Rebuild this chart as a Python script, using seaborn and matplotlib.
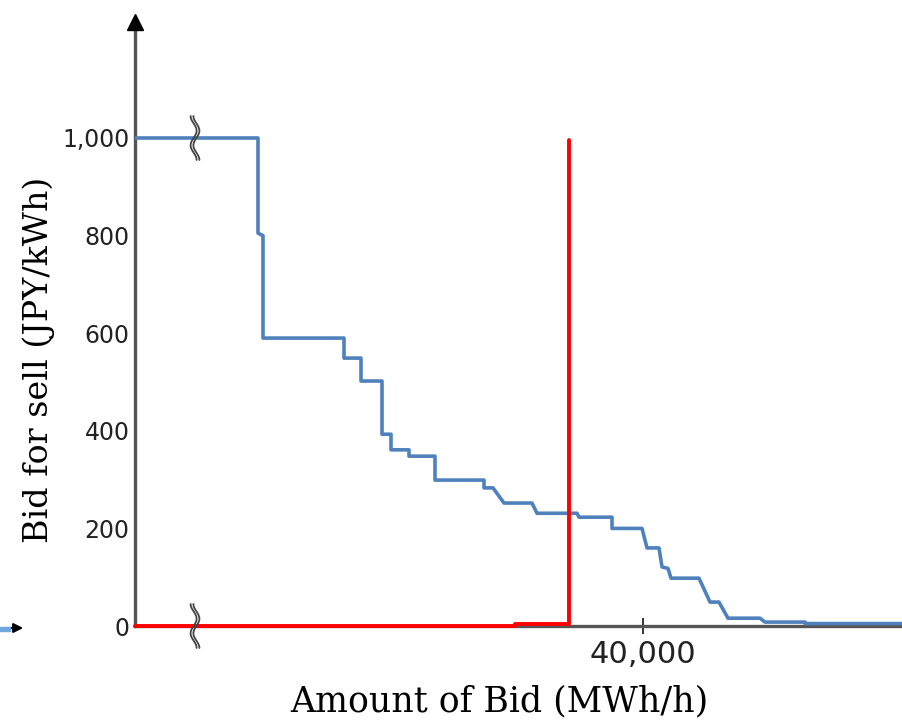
import numpy as np
import pandas as pd
import matplotlib
matplotlib.use("Agg")
import matplotlib.pyplot as plt
import seaborn as sns

# sell curve (vertices of the stepped supply curve)
sell_amount = [14600, 20750, 20750, 21000, 21000, 25050, 25050, 25900, 25900,
               26950, 26950, 27400, 27400, 28300, 28300, 29600, 29600, 32050,
               32050, 32500, 33050, 34450, 34700, 36700, 36800, 38450, 38450,
               39950, 40200, 40800, 40950, 41250, 41400, 42800, 43350, 43800,
               44250, 45850, 46100, 48100, 48100, 53000]
sell_price = [1000, 1000, 805, 800, 590, 590, 549, 549, 502,
              502, 393, 393, 361, 361, 348, 348, 299, 299,
              283, 283, 252, 252, 231, 231, 223, 223, 200,
              200, 160, 160, 121, 118, 98, 98, 49, 49,
              16, 16, 8, 8, 5, 5]

# buy curve
buy_amount = [14600, 33600, 33600, 36300, 36300]
buy_price = [0, 0, 5, 5, 995]

y_ticks = [0, 200, 400, 600, 800, 1000]
y_tick_labels = ["0", "200", "400", "600", "800", "1,000"]
x_ticks = [40000]
x_tick_labels = ["40,000"]

sell = pd.DataFrame({"amount": sell_amount, "price": sell_price})
buy = pd.DataFrame({"amount": buy_amount, "price": buy_price})

sns.set_theme(style="white")
plt.rcParams["font.family"] = ["DejaVu Sans"]

fig = plt.figure(figsize=(9.03, 7.21), dpi=100)
ax = fig.add_axes([135 / 903, 1 - 626 / 721, 1 - 135 / 903, (626 - 22) / 721])

sns.lineplot(data=sell, x="amount", y="price", sort=False, estimator=None,
             color="#4f81bd", linewidth=2.6, ax=ax, zorder=3)
sns.lineplot(data=buy, x="amount", y="price", sort=False, estimator=None,
             color="#ff0000", linewidth=2.8, ax=ax, zorder=4, clip_on=False)

ax.set_xlim(14600, 53000)
ax.set_ylim(0, 1000 * (626 - 22) / (626 - 138))

for s in ["top", "right"]:
    ax.spines[s].set_visible(False)
for s in ["left", "bottom"]:
    ax.spines[s].set_color("#555555")
    ax.spines[s].set_linewidth(2.4)

ax.set_yticks(y_ticks)
ax.set_yticklabels(y_tick_labels, fontsize=17, color="#222222")
ax.set_xticks(x_ticks)
ax.set_xticklabels(x_tick_labels, fontsize=22, color="#222222")
ax.tick_params(axis="y", length=0, pad=4)
ax.tick_params(axis="x", bottom=True, direction="inout", length=12, width=1.3,
               color="#222222", pad=4)

ax.set_xlabel("Amount of Bid (MWh/h)", family="DejaVu Serif", fontsize=25, color="black")
ax.set_ylabel("Bid for sell (JPY/kWh)", family="DejaVu Serif", fontsize=24, color="black")
ax.xaxis.set_label_coords(0.475, -0.097)
ax.yaxis.set_label_coords(-0.104, 0.44)

# arrow head on y axis
ax.plot([0], [1], marker="^", markersize=11, color="black", transform=ax.transAxes,
        clip_on=False, zorder=6)

# axis break marks
t = np.linspace(-1, 1, 60)
for yc in [0, 1000]:
    for off in [-70, 70]:
        ax.plot(17600 + off + 150 * np.sin(t * np.pi * 1.5), yc + 45 * t,
                color="#444444", linewidth=1.3, clip_on=False, zorder=7)

# stray arrow at lower left
fig.patches.append(plt.Rectangle((0.0, 1 - 631 / 721), 10 / 903, 4 / 721,
                                 transform=fig.transFigure, color="#6fa8dc"))
fig.add_artist(matplotlib.patches.FancyArrowPatch(
    (2 / 903, 1 - 628 / 721), (26 / 903, 1 - 628 / 721), transform=fig.transFigure,
    arrowstyle="-|>", mutation_scale=14, color="black", linewidth=1.5))

fig.savefig("out.png", dpi=100)
